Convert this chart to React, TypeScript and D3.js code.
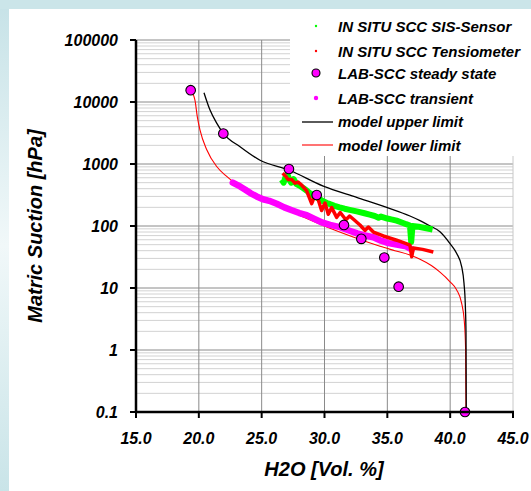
import React from 'react';
import * as d3 from 'd3';

const xTicks = [15, 20, 25, 30, 35, 40, 45];
const yTicks = [0.1, 1, 10, 100, 1000, 10000, 100000];
const yTickLabels = ['0.1', '1', '10', '100', '1000', '10000', '100000'];

const sisSensor: [number, number][] = [
  [26.6, 560], [26.75, 500], [26.9, 620], [27.05, 680], [27.2, 560], [27.35, 500], [27.55, 570], [27.75, 480],
  [28.0, 450], [28.3, 410], [28.6, 370], [28.9, 330], [29.2, 300], [29.5, 280], [29.9, 250], [30.2, 235],
  [30.44, 225], [30.8, 212], [31.2, 200], [31.6, 190], [32.0, 182], [32.56, 172], [33.1, 162], [33.6, 152],
  [34.0, 145], [34.3, 136], [34.5, 142], [35.0, 132], [35.4, 127], [35.74, 122], [36.2, 113], [36.5, 107],
  [36.8, 102], [36.9, 55], [37.0, 100], [37.5, 97], [38.0, 93], [38.6, 88],
];

const tensiometer: [number, number][] = [
  [26.67, 710], [26.9, 640], [27.1, 560], [27.4, 560], [27.65, 490], [27.9, 510], [28.18, 457], [28.58, 370],
  [28.98, 230], [29.24, 316], [29.5, 265], [29.77, 178], [30.04, 235], [30.3, 155], [30.57, 198], [30.97, 138],
  [31.25, 165], [31.7, 126], [32.0, 145], [32.35, 126], [32.82, 104], [33.22, 85], [33.49, 96], [33.89, 80],
  [34.68, 69], [35.74, 59], [36.5, 52], [36.8, 49], [36.94, 32], [37.07, 44], [37.8, 42], [38.66, 38],
];

const steadyState: [number, number][] = [
  [19.35, 15500], [21.95, 3100], [27.17, 830], [29.38, 316], [31.55, 104], [32.93, 62], [34.76, 31],
  [35.9, 10.5], [41.18, 0.1],
];

const transient: [number, number][] = [
  [22.7, 500], [23.28, 435], [23.7, 385], [24.1, 340], [24.6, 300], [25.1, 270], [25.6, 255], [26.2, 228],
  [26.8, 200], [27.4, 180], [28.0, 162], [28.58, 150], [29.2, 130], [29.8, 114], [30.44, 104], [31.23, 96],
  [32.0, 84], [32.6, 76], [33.1, 71], [33.89, 66], [34.5, 58], [35.1, 53], [35.74, 50], [36.5, 47], [36.94, 42],
];

const upperLimit: [number, number][] = [
  [20.41, 14100], [20.89, 7400], [21.42, 4570], [21.95, 3130], [23.28, 1900], [24.87, 1150], [27.17, 800],
  [29.9, 440], [32.56, 290], [34.95, 200], [36.8, 145], [37.6, 122], [38.4, 100], [39.19, 81], [39.99, 52],
  [40.52, 36], [40.92, 22], [41.1, 12], [41.21, 5], [41.26, 1.9], [41.28, 0.1],
];

const lowerLimit: [number, number][] = [
  [19.35, 15500], [19.69, 10700], [19.88, 5750], [20.09, 3550], [20.63, 1700], [21.42, 910], [22.22, 630],
  [22.88, 490], [24.0, 370], [25.5, 255], [27.0, 185], [28.5, 135], [30.44, 92], [32.5, 64], [34.42, 47],
  [35.6, 40], [36.8, 34], [37.6, 29], [38.5, 23], [39.19, 18], [39.99, 12.6], [40.52, 9.3], [40.92, 5.6],
  [41.12, 3.0], [41.23, 1.0], [41.26, 0.1],
];

const legendLabels = [
  'IN SITU SCC SIS-Sensor',
  'IN SITU SCC Tensiometer',
  'LAB-SCC steady state',
  'LAB-SCC transient',
  'model upper limit',
  'model lower limit',
];

const W = 531;
const H = 491;
const FONT = '"Liberation Sans", Arial, sans-serif';

export default function App() {
  const x = d3.scaleLinear().domain([15, 45]).range([136, 513]);
  const y = d3.scaleLog().domain([0.1, 100000]).range([412, 40]);

  const minor: number[] = [];
  for (let e = -1; e < 5; e++) {
    for (let m = 2; m <= 9; m++) minor.push(m * Math.pow(10, e));
  }

  const smooth = d3.line<[number, number]>().x((d) => x(d[0])).y((d) => y(d[1])).curve(d3.curveMonotoneX);
  const jagged = d3.line<[number, number]>().x((d) => x(d[0])).y((d) => y(d[1]));

  const legendBase = [32, 57, 79, 104, 127, 151];
  const lx = 316;

  return (
    <svg width={W} height={H} style={{ position: 'absolute', left: 0, top: 0 }} fontFamily={FONT}>
      <defs>
        <linearGradient id="bg" x1="0" y1="0" x2="0" y2="1">
          <stop offset="0" stopColor="#c6e2e7" />
          <stop offset="0.5" stopColor="#f1f8f9" />
          <stop offset="1" stopColor="#c9e4e8" />
        </linearGradient>
      </defs>
      <rect x={0} y={0} width={W} height={H} fill="url(#bg)" />
      <rect x={0} y={0} width={W} height={9} fill="#cbe5e9" />
      <rect x={9} y={9} width={W - 9} height={H - 9} fill="#ffffff" />

      {/* grid */}
      {minor.map((v) => (
        <line key={'m' + v} x1={136} x2={513} y1={y(v)} y2={y(v)} stroke="#d2d2d2" strokeWidth={1} />
      ))}
      {yTicks.map((v) => (
        <line key={'M' + v} x1={136} x2={513} y1={y(v)} y2={y(v)} stroke="#8a8a8a" strokeWidth={1} />
      ))}
      {xTicks.slice(1).map((v) => (
        <line key={'v' + v} x1={x(v)} x2={x(v)} y1={40} y2={412} stroke={v === 45 ? '#c8c8c8' : '#8a8a8a'} strokeWidth={1} />
      ))}

      {/* model curves */}
      <path d={smooth(lowerLimit) || ''} fill="none" stroke="#ff0000" strokeWidth={1.1} />
      <path d={smooth(upperLimit) || ''} fill="none" stroke="#000000" strokeWidth={1.3} />

      {/* transient */}
      <path d={jagged(transient) || ''} fill="none" stroke="#ff00ff" strokeWidth={6.5} strokeLinecap="round" strokeLinejoin="round" />

      {/* SIS sensor */}
      <path d={jagged(sisSensor) || ''} fill="none" stroke="#00ff00" strokeWidth={6} strokeLinejoin="round" />

      {/* tensiometer */}
      <path d={jagged(tensiometer) || ''} fill="none" stroke="#ff0000" strokeWidth={3.5} strokeLinejoin="round" />

      {/* steady state */}
      {steadyState.map((d, i) => (
        <circle key={'s' + i} cx={x(d[0])} cy={y(d[1])} r={4.8} fill="#ff00ff" stroke="#000" strokeWidth={1.1} />
      ))}

      {/* axes */}
      <line x1={136} x2={136} y1={40} y2={413} stroke="#000" strokeWidth={2.5} />
      <line x1={135} x2={514} y1={412} y2={412} stroke="#000" strokeWidth={2.5} />
      {yTicks.map((v) => (
        <line key={'yt' + v} x1={130} x2={136} y1={y(v)} y2={y(v)} stroke="#000" strokeWidth={2} />
      ))}
      {xTicks.map((v) => (
        <line key={'xt' + v} x1={x(v)} x2={x(v)} y1={412} y2={418} stroke="#000" strokeWidth={2} />
      ))}
      {yTicks.map((v, i) => (
        <text key={'yl' + v} x={118} y={y(v) + 6} textAnchor="end" fontSize={16} fontWeight="bold" fontStyle="italic">
          {yTickLabels[i]}
        </text>
      ))}
      {xTicks.map((v) => (
        <text key={'xl' + v} x={x(v)} y={444} textAnchor="middle" fontSize={16} fontWeight="bold" fontStyle="italic">
          {v.toFixed(1)}
        </text>
      ))}

      <text x={324} y={476} textAnchor="middle" fontSize={20} fontWeight="bold" fontStyle="italic">
        H2O [Vol. %]
      </text>
      <text transform="translate(42,226) rotate(-90)" textAnchor="middle" fontSize={20} fontWeight="bold" fontStyle="italic">
        Matric Suction [hPa]
      </text>

      {/* legend */}
      <rect x={290} y={9} width={W - 290} height={147} fill="#ffffff" />
      <circle cx={lx} cy={legendBase[0] - 6} r={1.2} fill="#00ff00" />
      <circle cx={lx} cy={legendBase[1] - 6} r={1.2} fill="#ff0000" />
      <circle cx={lx} cy={legendBase[2] - 6} r={4} fill="#ff00ff" stroke="#000" strokeWidth={1.1} />
      <circle cx={lx} cy={legendBase[3] - 6} r={2.2} fill="#ff00ff" />
      <line x1={302} x2={333} y1={legendBase[4] - 5} y2={legendBase[4] - 5} stroke="#000" strokeWidth={1.3} />
      <line x1={302} x2={333} y1={legendBase[5] - 6} y2={legendBase[5] - 6} stroke="#ff0000" strokeWidth={1.1} />
      {legendLabels.map((t, i) => (
        <text key={t} x={338} y={legendBase[i]} fontSize={15} fontWeight="bold" fontStyle="italic">
          {t}
        </text>
      ))}
    </svg>
  );
}
